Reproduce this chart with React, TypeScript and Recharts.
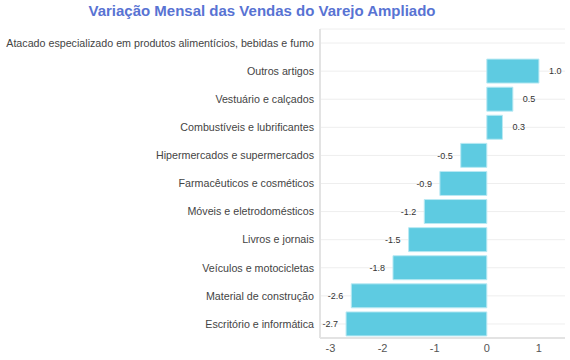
import { BarChart, Bar, XAxis, YAxis, CartesianGrid, LabelList } from 'recharts';

const categories = [
  'Atacado especializado em produtos alimentícios, bebidas e fumo',
  'Outros artigos',
  'Vestuário e calçados',
  'Combustíveis e lubrificantes',
  'Hipermercados e supermercados',
  'Farmacêuticos e cosméticos',
  'Móveis e eletrodomésticos',
  'Livros e jornais',
  'Veículos e motocicletas',
  'Material de construção',
  'Escritório e informática',
];

const values = [0, 1.0, 0.5, 0.3, -0.5, -0.9, -1.2, -1.5, -1.8, -2.6, -2.7];

const xTicks = [-3, -2, -1, 0, 1];

const data = categories.map((name, i) => ({ name, value: values[i] }));

const font = '"Liberation Sans", Arial, Helvetica, sans-serif';

// rótulo à direita para positivos, à esquerda para negativos
const ValueLabel = (props: any) => {
  const { x, y, width, height, value } = props;
  if (!value) return null;
  const left = Math.min(x, x + width);
  const right = Math.max(x, x + width);
  const cy = y + height / 2;
  return value > 0 ? (
    <text x={right + 10} y={cy} dy="0.35em" fontSize={9} fill="#333" textAnchor="start" fontFamily={font}>
      {value.toFixed(1)}
    </text>
  ) : (
    <text x={left - 8} y={cy} dy="0.35em" fontSize={9} fill="#333" textAnchor="end" fontFamily={font}>
      {value.toFixed(1)}
    </text>
  );
};

// uma linha só, sem quebra
const CategoryTick = (props: any) => {
  const { x, y, payload } = props;
  return (
    <text x={x} y={y} dy="0.35em" textAnchor="end" fontSize={10.7} fill="#444" fontFamily={font}>
      {payload.value}
    </text>
  );
};

export default function App() {
  return (
    <div style={{ position: 'absolute', left: 0, top: 0, width: 570, height: 360, background: '#fff', fontFamily: font }}>
      <div
        style={{
          position: 'absolute',
          left: 0,
          top: 3,
          width: 524,
          textAlign: 'center',
          fontSize: 15,
          lineHeight: '15px',
          fontWeight: 'bold',
          color: '#5873d3',
        }}
      >
        Variação Mensal das Vendas do Varejo Ampliado
      </div>
      <BarChart
        width={570}
        height={360}
        data={data}
        layout="vertical"
        margin={{ top: 29, right: 5, bottom: 0, left: 0 }}
        barCategoryGap={2}
      >
        <CartesianGrid horizontal vertical={false} stroke="#eeeeee" />
        <XAxis
          type="number"
          domain={[-3.2, 1.5]}
          ticks={xTicks}
          height={22}
          tickLine={false}
          tickSize={0}
          tickMargin={6}
          axisLine={{ stroke: '#e3e3e3', strokeWidth: 2 }}
          tick={{ fontSize: 11, fill: '#555', fontFamily: font }}
        />
        <YAxis
          type="category"
          dataKey="name"
          width={320}
          interval={0}
          tickLine={false}
          tickSize={0}
          tickMargin={6}
          axisLine={{ stroke: '#e3e3e3', strokeWidth: 2 }}
          tick={<CategoryTick />}
        />
        <Bar dataKey="value" fill="#5ecbe1" stroke="#b9e9f3" strokeWidth={1} isAnimationActive={false}>
          <LabelList dataKey="value" content={ValueLabel} />
        </Bar>
      </BarChart>
    </div>
  );
}
